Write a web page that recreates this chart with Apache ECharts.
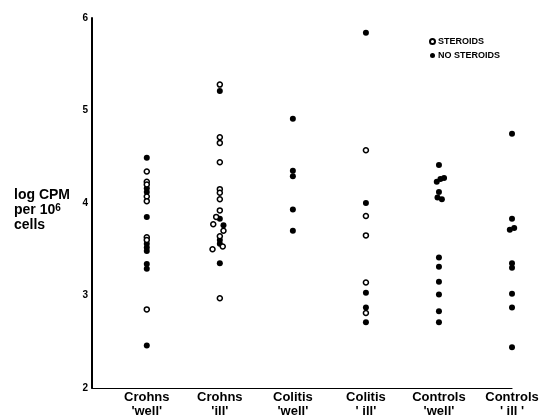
<!DOCTYPE html>
<html>
<head>
<meta charset="utf-8">
<script src="https://cdn.jsdelivr.net/npm/echarts@6/dist/echarts.min.js"></script>
<style>html,body{margin:0;padding:0;background:#fff}#c{width:540px;height:418px}</style>
</head>
<body>
<div id="c"></div>
<script>
const categories = ["Crohns\n'well'", "Crohns\n'ill'", "Colitis\n'well'", "Colitis\n' ill'", "Controls\n'well'", "Controls\n' ill '"];
const yTicks = [2, 3, 4, 5, 6];

// log CPM per 10^6 cells, one list per category
const steroids = [
  [4.34, 4.23, 4.20, 4.07, 4.02, 3.63, 3.60, 2.85],
  [5.28, 4.71, 4.65, 4.44, 4.15, 4.11, 4.04, 3.92, 3.85, 3.77, 3.70, 3.64, 3.53, 3.50, 2.97],
  [],
  [4.57, 3.86, 3.65, 3.14, 2.81],
  [],
  []
];
// small horizontal scatter of overlapping points (in category units)
const steroidsJitter = [
  [0, 0, 0, 0, 0, 0, 0, 0],
  [0, 0, 0, 0, 0, 0, 0, 0, -0.05, -0.09, 0.05, 0, 0.04, -0.1, 0],
  [],
  [0, 0, 0, 0, 0],
  [],
  []
];
const noSteroids = [
  [4.49, 4.16, 4.12, 3.85, 3.56, 3.52, 3.48, 3.34, 3.29, 2.46],
  [5.21, 3.83, 3.76, 3.60, 3.56, 3.35],
  [4.91, 4.35, 4.29, 3.93, 3.70],
  [5.84, 4.00, 3.03, 2.87, 2.71],
  [4.41, 4.23, 4.26, 4.27, 4.12, 4.06, 4.04, 3.41, 3.31, 3.15, 3.01, 2.83, 2.71],
  [4.75, 3.83, 3.73, 3.71, 3.35, 3.30, 3.02, 2.87, 2.44]
];
const noSteroidsJitter = [
  [0, 0, 0, 0, 0, 0, 0, 0, 0, 0],
  [0, 0, 0.05, 0, 0, 0],
  [0, 0, 0, 0, 0],
  [0, 0, 0, 0, 0],
  [0, -0.03, 0.02, 0.07, 0, -0.02, 0.04, 0, 0, 0, 0, 0, 0],
  [0, 0, 0.03, -0.03, 0, 0, 0, 0, 0]
];

function toPoints(groups, jitter) {
  const pts = [];
  groups.forEach((vals, i) => vals.forEach((v, j) => pts.push([i + 1 + (jitter[i][j] || 0), v])));
  return pts;
}

const font = 'Liberation Sans';
const chart = echarts.init(document.getElementById('c'), null, {renderer: 'canvas'});
chart.setOption({
  animation: false,
  backgroundColor: '#fff',
  title: {
    text: 'log CPM\nper 10{s|6}\ncells',
    left: 9, top: 183,
    textStyle: {
      fontFamily: font, fontWeight: 'bold', fontSize: 14, lineHeight: 15, color: '#000',
      rich: {s: {fontFamily: font, fontWeight: 'bold', fontSize: 10, verticalAlign: 'top', lineHeight: 15, color: '#000'}}
    }
  },
  legend: {
    orient: 'vertical',
    left: 424, top: 31,
    itemWidth: 5, itemHeight: 5, itemGap: 3,
    textStyle: {fontFamily: font, fontWeight: 'bold', fontSize: 9, lineHeight: 11, color: '#000', padding: [0, 0, 0, -2]},
    data: ['STEROIDS', 'NO STEROIDS']
  },
  grid: {left: 92, right: 28, top: 18, bottom: 30, containLabel: false, outerBoundsMode: 'none'},
  xAxis: {
    type: 'value',
    min: 0.25, max: 6, interval: 0.25,
    axisLine: {show: true, onZero: false, lineStyle: {color: '#000', width: 1.2}},
    axisTick: {show: false},
    splitLine: {show: false},
    axisLabel: {
      interval: 0, margin: 2,
      fontFamily: font, fontWeight: 'bold', fontSize: 13, lineHeight: 14, color: '#000',
      formatter: v => (Math.abs(v - Math.round(v)) < 1e-6 && v >= 1 && v <= 6) ? categories[Math.round(v) - 1] : ''
    }
  },
  yAxis: {
    type: 'value',
    min: yTicks[0], max: yTicks[yTicks.length - 1], interval: 1,
    axisLine: {show: true, lineStyle: {color: '#000', width: 2}},
    axisTick: {show: false},
    splitLine: {show: false},
    axisLabel: {margin: 4, fontFamily: font, fontWeight: 'bold', fontSize: 10, color: '#000', verticalAlign: 'middle'}
  },
  series: [
    {
      name: 'STEROIDS', type: 'scatter', clip: false, symbol: 'circle', symbolSize: 5,
      itemStyle: {color: '#fff', borderColor: '#000', borderWidth: 1.5, opacity: 1},
      data: toPoints(steroids, steroidsJitter), z: 3
    },
    {
      name: 'NO STEROIDS', type: 'scatter', clip: false, symbol: 'circle', symbolSize: 6,
      itemStyle: {color: '#000', borderColor: '#000', borderWidth: 0, opacity: 1},
      data: toPoints(noSteroids, noSteroidsJitter), z: 2
    }
  ]
});
</script>
</body>
</html>
